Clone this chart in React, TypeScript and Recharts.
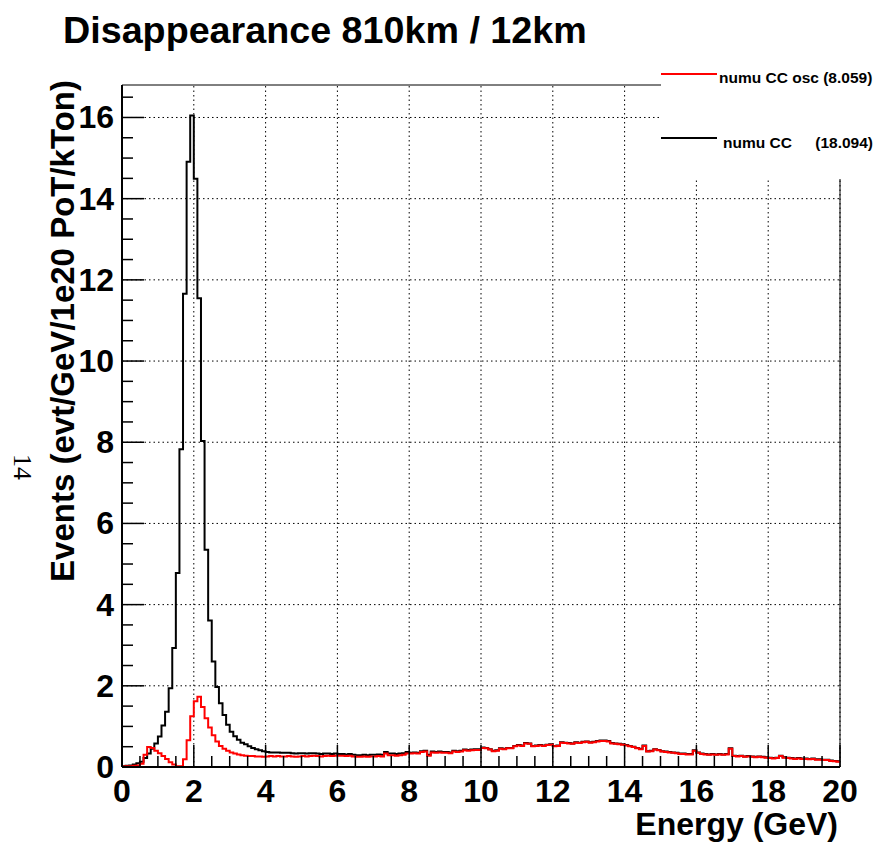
import React from "react";
import { LineChart, Line, XAxis, YAxis, ReferenceLine, ReferenceArea, Legend } from "recharts";

// ---- data (bin contents, 0.1 GeV bins from 0 to 20 GeV) ----
const BIN_WIDTH = 0.1;

const NUMU_CC: number[] = [
  0.02, 0.03, 0.04, 0.06, 0.09, 0.13, 0.22, 0.33, 0.45, 0.58,
  0.75, 1.02, 1.36, 1.94, 2.93, 4.78, 7.83, 11.66, 14.91, 16.05,
  14.49, 11.55, 8.03, 5.35, 3.61, 2.6, 1.97, 1.57, 1.28, 1.04,
  0.87, 0.76, 0.67, 0.6, 0.56, 0.51, 0.47, 0.44, 0.41, 0.39,
  0.37, 0.36, 0.36, 0.36, 0.35, 0.35, 0.35, 0.34, 0.33, 0.34,
  0.34, 0.33, 0.34, 0.34, 0.33, 0.32, 0.33, 0.33, 0.32, 0.33,
  0.32, 0.32, 0.31, 0.32, 0.3, 0.29, 0.29, 0.3, 0.29, 0.3,
  0.3, 0.31, 0.3, 0.37, 0.33, 0.33, 0.32, 0.33, 0.34, 0.37,
  0.35, 0.36, 0.35, 0.39, 0.4, 0.3, 0.38, 0.37, 0.38, 0.37,
  0.37, 0.36, 0.4, 0.39, 0.4, 0.43, 0.42, 0.43, 0.44, 0.44,
  0.48, 0.47, 0.44, 0.4, 0.41, 0.46, 0.45, 0.47, 0.47, 0.52,
  0.54, 0.53, 0.59, 0.58, 0.52, 0.53, 0.54, 0.53, 0.55, 0.56,
  0.52, 0.53, 0.61, 0.6, 0.59, 0.58, 0.61, 0.6, 0.62, 0.63,
  0.61, 0.62, 0.64, 0.65, 0.65, 0.64, 0.59, 0.58, 0.57, 0.56,
  0.54, 0.52, 0.5, 0.47, 0.45, 0.53, 0.39, 0.4, 0.44, 0.42,
  0.39, 0.38, 0.37, 0.36, 0.35, 0.33, 0.33, 0.32, 0.32, 0.41,
  0.36, 0.33, 0.32, 0.31, 0.32, 0.31, 0.32, 0.31, 0.32, 0.46,
  0.28, 0.27, 0.28, 0.26, 0.27, 0.26, 0.25, 0.26, 0.25, 0.24,
  0.23, 0.22, 0.23, 0.28, 0.24, 0.23, 0.22, 0.21, 0.22, 0.21,
  0.21, 0.2, 0.21, 0.19, 0.19, 0.18, 0.18, 0.16, 0.15, 0.14,
];

const NUMU_CC_OSC: number[] = [
  0.01, 0.02, 0.02, 0.03, 0.04, 0.08, 0.3, 0.49, 0.47, 0.4,
  0.34, 0.27, 0.2, 0.12, 0.06, 0.02, 0.02, 0.19, 0.66, 1.25,
  1.62, 1.73, 1.48, 1.2, 0.97, 0.78, 0.63, 0.52, 0.45, 0.4,
  0.36, 0.33, 0.31, 0.29, 0.28, 0.27, 0.27, 0.26, 0.26, 0.25,
  0.26, 0.27, 0.26, 0.27, 0.26, 0.26, 0.27, 0.26, 0.25, 0.26,
  0.27, 0.26, 0.27, 0.28, 0.27, 0.26, 0.27, 0.28, 0.27, 0.28,
  0.28, 0.28, 0.27, 0.28, 0.26, 0.25, 0.25, 0.26, 0.25, 0.26,
  0.26, 0.27, 0.26, 0.33, 0.29, 0.29, 0.28, 0.29, 0.3, 0.33,
  0.33, 0.34, 0.33, 0.37, 0.38, 0.28, 0.36, 0.35, 0.36, 0.35,
  0.35, 0.34, 0.38, 0.37, 0.38, 0.41, 0.4, 0.41, 0.42, 0.42,
  0.47, 0.46, 0.43, 0.39, 0.4, 0.45, 0.44, 0.46, 0.46, 0.51,
  0.53, 0.52, 0.58, 0.57, 0.51, 0.52, 0.53, 0.52, 0.54, 0.55,
  0.51, 0.52, 0.6, 0.59, 0.58, 0.57, 0.6, 0.59, 0.61, 0.62,
  0.6, 0.61, 0.63, 0.64, 0.64, 0.63, 0.58, 0.57, 0.56, 0.55,
  0.53, 0.51, 0.49, 0.46, 0.44, 0.52, 0.38, 0.39, 0.43, 0.41,
  0.38, 0.37, 0.36, 0.35, 0.34, 0.32, 0.32, 0.31, 0.31, 0.4,
  0.35, 0.32, 0.31, 0.3, 0.31, 0.3, 0.31, 0.3, 0.31, 0.45,
  0.27, 0.26, 0.27, 0.25, 0.26, 0.25, 0.24, 0.25, 0.24, 0.23,
  0.22, 0.21, 0.22, 0.27, 0.23, 0.22, 0.21, 0.2, 0.21, 0.2,
  0.2, 0.19, 0.2, 0.18, 0.18, 0.17, 0.17, 0.15, 0.14, 0.13,
];

const X_MAJOR = [0, 2, 4, 6, 8, 10, 12, 14, 16, 18, 20];
const X_TICKS = [
  0, 0.5, 1, 1.5, 2, 2.5, 3, 3.5, 4, 4.5, 5, 5.5, 6, 6.5, 7, 7.5, 8, 8.5, 9, 9.5,
  10, 10.5, 11, 11.5, 12, 12.5, 13, 13.5, 14, 14.5, 15, 15.5, 16, 16.5, 17, 17.5,
  18, 18.5, 19, 19.5, 20,
];
const Y_MAJOR = [0, 2, 4, 6, 8, 10, 12, 14, 16];
const Y_TICKS = [
  0, 0.5, 1, 1.5, 2, 2.5, 3, 3.5, 4, 4.5, 5, 5.5, 6, 6.5, 7, 7.5, 8, 8.5,
  9, 9.5, 10, 10.5, 11, 11.5, 12, 12.5, 13, 13.5, 14, 14.5, 15, 15.5, 16, 16.5,
];
const X_DOMAIN: [number, number] = [0, 20];
const Y_DOMAIN: [number, number] = [0, 16.8];

const TITLE = "Disappearance 810km / 12km";
const X_TITLE = "Energy (GeV)";
const Y_TITLE = "Events (evt/GeV/1e20 PoT/kTon)";
const LEGEND_OSC = "numu CC osc (8.059)";
const LEGEND_CC_NAME = "numu CC";
const LEGEND_CC_VAL = "(18.094)";

// histogram rows: one row per bin low edge, plus the final upper edge
const rows = NUMU_CC.map((v, i) => ({
  e: Math.round(i * BIN_WIDTH * 10) / 10,
  cc: v,
  osc: NUMU_CC_OSC[i],
}));
rows.push({ e: X_DOMAIN[1], cc: NUMU_CC[NUMU_CC.length - 1], osc: NUMU_CC_OSC[NUMU_CC_OSC.length - 1] });

const FONT = "'Liberation Sans', Arial, Helvetica, sans-serif";
const isMajor = (v: number) => Math.abs(v / 2 - Math.round(v / 2)) < 1e-9;

const W = 868;
const H = 835;
const M = { top: 77, right: 36, bottom: 76, left: 114 };
const LEG_W = W - 653;

const XTick = (props: any) => {
  const { x, y, payload } = props;
  const v = payload.value;
  const major = isMajor(v);
  return (
    <g>
      <line x1={x} y1={y} x2={x} y2={y - (major ? 22 : 11)} stroke="#000" strokeWidth={1.5} />
      {major && (
        <text x={x} y={y + 35} textAnchor="middle" fontFamily={FONT} fontWeight="bold" fontSize={32} fill="#000">
          {v}
        </text>
      )}
    </g>
  );
};

const YTick = (props: any) => {
  const { x, y, payload } = props;
  const v = payload.value;
  const major = isMajor(v);
  return (
    <g>
      <line x1={x} y1={y} x2={x + (major ? 22 : 11)} y2={y} stroke="#000" strokeWidth={1.5} />
      {major && (
        <text x={x - 8} y={y} textAnchor="end" dominantBaseline="central" fontFamily={FONT} fontWeight="bold" fontSize={32} fill="#000">
          {v}
        </text>
      )}
    </g>
  );
};

const LegendBox = () => (
  <svg width={LEG_W} height={119} style={{ display: "block" }}>
    <rect x={0} y={0} width={LEG_W} height={119} fill="#fff" />
    <line x1={0} y1={14} x2={56} y2={14} stroke="#ff0000" strokeWidth={2} />
    <text x={58} y={23} fontFamily={FONT} fontWeight="bold" fontSize={15.5} fill="#000">{LEGEND_OSC}</text>
    <line x1={0} y1={78} x2={56} y2={78} stroke="#000" strokeWidth={2} />
    <text x={62} y={88} fontFamily={FONT} fontWeight="bold" fontSize={15.5} fill="#000">{LEGEND_CC_NAME}</text>
    <text x={LEG_W - 3} y={88} textAnchor="end" fontFamily={FONT} fontWeight="bold" fontSize={15.5} fill="#000">{LEGEND_CC_VAL}</text>
  </svg>
);

export default function App() {
  return (
    <div style={{ position: "relative", width: W, height: H, background: "#fff" }}>
      <LineChart width={W} height={H} data={rows} margin={{ top: M.top, right: M.right, bottom: 0, left: 0 }}>
        <XAxis
          type="number"
          dataKey="e"
          domain={X_DOMAIN}
          ticks={X_TICKS}
          interval={0}
          height={M.bottom}
          tickSize={0}
          tickMargin={0}
          tickLine={false}
          axisLine={{ stroke: "#000", strokeWidth: 2 }}
          tick={(p: any) => <XTick {...p} />}
          allowDataOverflow
        />
        <YAxis
          type="number"
          domain={Y_DOMAIN}
          ticks={Y_TICKS}
          interval={0}
          width={M.left}
          tickSize={0}
          tickMargin={0}
          tickLine={false}
          axisLine={{ stroke: "#000", strokeWidth: 2 }}
          tick={(p: any) => <YTick {...p} />}
          allowDataOverflow
        />
        <ReferenceArea x1={X_DOMAIN[0]} x2={X_DOMAIN[1]} y1={Y_DOMAIN[0]} y2={Y_DOMAIN[1]} fill="none" fillOpacity={0} stroke="#000" strokeWidth={1} />
        {X_MAJOR.map((v) => (
          <ReferenceLine key={"gx" + v} x={v} stroke="#000" strokeWidth={1} strokeDasharray="1.5 3" />
        ))}
        {Y_MAJOR.map((v) => (
          <ReferenceLine key={"gy" + v} y={v} stroke="#000" strokeWidth={1} strokeDasharray="1.5 3" />
        ))}
        <Line type="stepAfter" dataKey="cc" name={LEGEND_CC_NAME} stroke="#000" strokeWidth={2} dot={false} isAnimationActive={false} />
        <Line type="stepAfter" dataKey="osc" name={LEGEND_OSC} stroke="#ff0000" strokeWidth={2} dot={false} isAnimationActive={false} />
        <Legend
          layout="vertical"
          align="center"
          verticalAlign="middle"
          content={() => <LegendBox />}
          wrapperStyle={{ position: "absolute", left: 653, top: 52, width: LEG_W, height: 119, margin: 0, padding: 0 }}
        />
      </LineChart>
      <svg width={W} height={H} style={{ position: "absolute", left: 0, top: 0, pointerEvents: "none" }}>
        <text x={55} y={35} fontFamily={FONT} fontWeight="bold" fontSize={37.7} fill="#000">{TITLE}</text>
        <text transform="translate(66,72) rotate(-90)" textAnchor="end" fontFamily={FONT} fontWeight="bold" fontSize={33} fill="#000">{Y_TITLE}</text>
        <text x={830} y={827} textAnchor="end" fontFamily={FONT} fontWeight="bold" fontSize={32} fill="#000">{X_TITLE}</text>
        <text transform="translate(14,459) rotate(90)" textAnchor="middle" dominantBaseline="central" fontFamily="'Liberation Serif', 'Times New Roman', serif" fontSize={26} fill="#000">14</text>
      </svg>
    </div>
  );
}
